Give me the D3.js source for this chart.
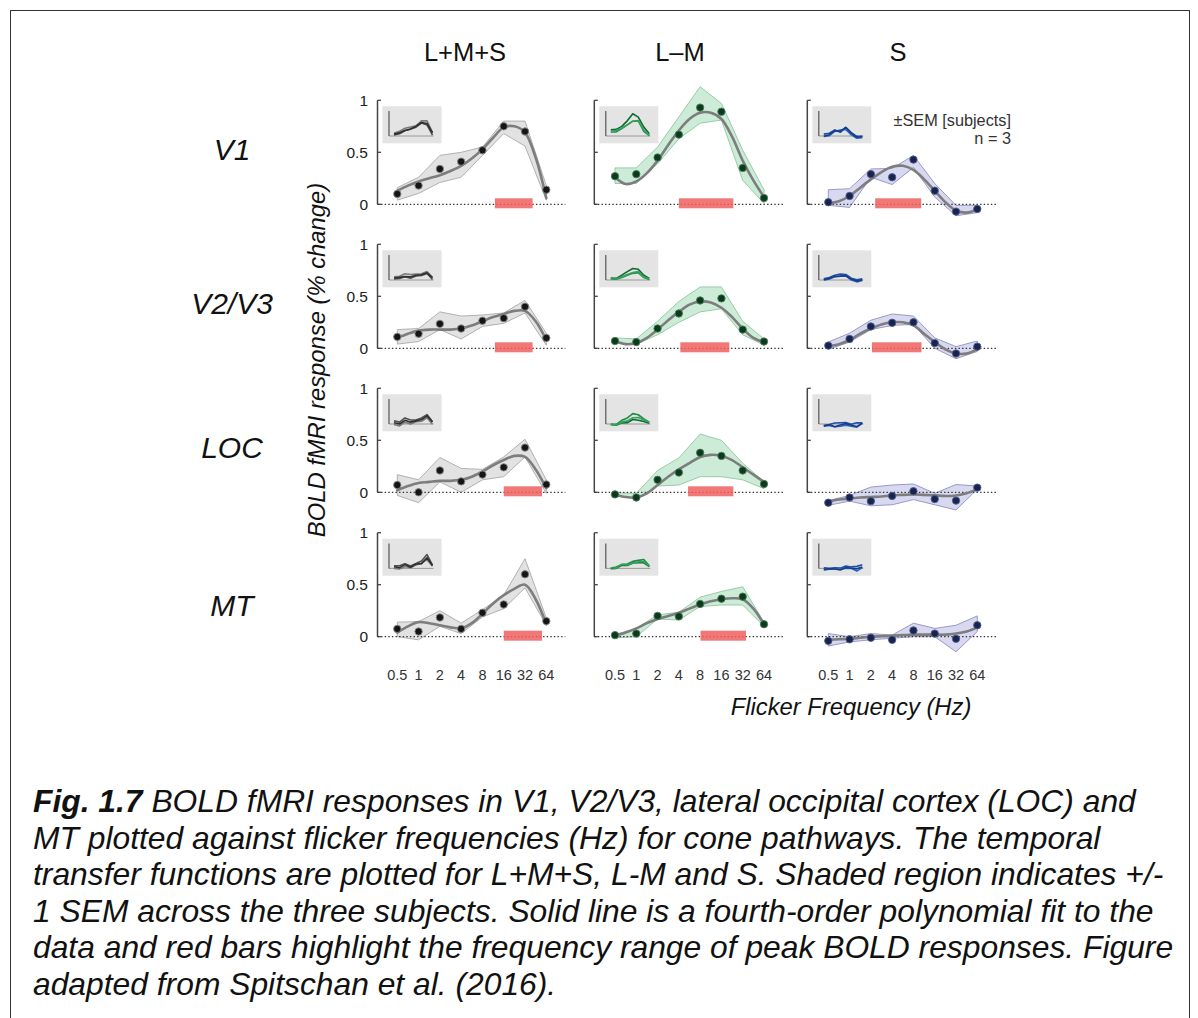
<!DOCTYPE html>
<html><head><meta charset="utf-8">
<script src="https://cdn.jsdelivr.net/npm/d3@7"></script>
<style>body{margin:0;background:#fff}svg{display:block}</style>
</head><body>
<svg id="chart" width="1198" height="1018"></svg>
<script>
// ---------------- DATA ----------------
const frequencies = [0.5, 1, 2, 4, 8, 16, 32, 64];
const fitFrequencies = [0.5, 0.707, 1, 1.414, 2, 2.828, 4, 5.657, 8, 11.31, 16, 22.63, 32, 45.25, 64];
const xTickLabels = ["0.5", "1", "2", "4", "8", "16", "32", "64"];
const yTickValues = [0, 0.5, 1];
const yTickLabels = ["0", "0.5", "1"];
const pathways = ["L+M+S", "L\u2013M", "S"];
const regions = ["V1", "V2/V3", "LOC", "MT"];

// each array: [L+M+S, L-M, S]
const meanV1  = [[0.10,0.18,0.34,0.41,0.52,0.75,0.70,0.14],[0.27,0.29,0.45,0.67,0.93,0.89,0.35,0.06],[0.02,0.08,0.29,0.26,0.43,0.13,-0.07,-0.045]];
const upperV1 = [[0.16,0.26,0.47,0.50,0.55,0.80,0.80,0.18],[0.35,0.35,0.55,0.84,1.13,0.97,0.52,0.14],[0.14,0.15,0.34,0.345,0.47,0.20,-0.01,-0.01]];
const lowerV1 = [[0.04,0.105,0.21,0.26,0.47,0.68,0.56,0.04],[0.20,0.20,0.39,0.63,0.78,0.81,0.23,0.01],[-0.01,-0.03,0.26,0.19,0.355,0.07,-0.11,-0.08]];
const fitV1   = [[0.13,0.18,0.22,0.25,0.28,0.32,0.37,0.44,0.53,0.64,0.74,0.75,0.69,0.45,0.06],
                 [0.26,0.195,0.22,0.30,0.42,0.57,0.71,0.82,0.88,0.88,0.82,0.65,0.42,0.23,0.07],
                 [0.01,0.03,0.08,0.16,0.24,0.31,0.36,0.37,0.33,0.24,0.13,0.02,-0.06,-0.08,-0.05]];
const peakV1  = [[12, 41], [4, 23.6], [2.3, 10.3]];

const meanV23  = [[0.11,0.14,0.235,0.19,0.265,0.29,0.40,0.10],[0.07,0.06,0.19,0.335,0.46,0.48,0.18,0.065],[0.026,0.09,0.21,0.245,0.25,0.05,-0.05,0.016]];
const upperV23 = [[0.18,0.19,0.35,0.31,0.32,0.34,0.46,0.145],[0.10,0.09,0.26,0.45,0.59,0.59,0.26,0.09],[0.06,0.145,0.27,0.33,0.31,0.10,0.016,0.07]];
const lowerV23 = [[0.04,0.065,0.18,0.09,0.21,0.24,0.34,0.03],[0.05,0.04,0.13,0.25,0.35,0.38,0.13,0.03],[-0.01,0.06,0.18,0.22,0.23,0.0,-0.10,-0.03]];
const fitV23   = [[0.10,0.14,0.17,0.18,0.18,0.18,0.19,0.22,0.26,0.30,0.33,0.36,0.36,0.26,0.08],
                  [0.07,0.04,0.05,0.10,0.18,0.27,0.35,0.42,0.45,0.44,0.39,0.30,0.19,0.10,0.06],
                  [0.02,0.04,0.08,0.14,0.19,0.23,0.25,0.25,0.22,0.14,0.06,-0.01,-0.05,-0.05,-0.01]];
const peakV23  = [[12, 41], [4.2, 20.7], [2.07, 10.4]];

const meanLOC  = [[0.07,0.00,0.21,0.105,0.17,0.24,0.43,0.075],[-0.02,-0.05,0.12,0.19,0.38,0.35,0.21,0.08],[-0.10,-0.05,-0.085,-0.035,0.01,-0.065,-0.08,0.045]];
const upperLOC = [[0.17,0.12,0.335,0.23,0.22,0.34,0.51,0.12],[-0.005,-0.01,0.21,0.33,0.56,0.50,0.28,0.10],[-0.08,-0.03,0.05,0.07,0.08,-0.01,0.075,0.06]];
const lowerLOC = [[-0.03,-0.10,0.10,0.0,0.12,0.15,0.34,-0.01],[-0.03,-0.06,0.06,0.07,0.15,0.15,0.12,0.035],[-0.125,-0.085,-0.13,-0.12,-0.07,-0.12,-0.17,0.03]];
const fitLOC   = [[0.02,0.06,0.09,0.10,0.11,0.11,0.12,0.15,0.20,0.26,0.31,0.35,0.34,0.22,0.04],
                  [-0.02,-0.045,-0.05,-0.01,0.07,0.15,0.22,0.28,0.34,0.36,0.35,0.31,0.24,0.17,0.10],
                  [-0.09,-0.07,-0.06,-0.05,-0.045,-0.04,-0.03,-0.025,-0.02,-0.025,-0.03,-0.035,-0.03,-0.01,0.03]];
const peakLOC  = [[16, 55.7], [5.4, 23.6], null];

const meanMT  = [[0.075,0.05,0.185,0.075,0.23,0.31,0.60,0.15],[0.015,0.03,0.20,0.195,0.315,0.365,0.385,0.12],[-0.04,-0.025,-0.01,-0.03,0.06,0.03,-0.02,0.11]];
const upperMT = [[0.14,0.145,0.25,0.13,0.26,0.40,0.75,0.18],[0.02,0.08,0.21,0.235,0.38,0.435,0.48,0.14],[0.03,0.0,0.03,0.015,0.13,0.08,0.11,0.20]];
const lowerMT = [[0.0,-0.03,0.10,0.03,0.19,0.27,0.47,0.11],[-0.01,0.0,0.17,0.16,0.29,0.305,0.305,0.10],[-0.09,-0.05,-0.03,-0.015,0.0,0.0,-0.145,0.05]];
const fitMT   = [[0.04,0.10,0.14,0.13,0.11,0.09,0.08,0.13,0.22,0.32,0.40,0.46,0.50,0.36,0.12],
                 [0.01,0.04,0.08,0.13,0.17,0.20,0.23,0.27,0.31,0.34,0.36,0.37,0.36,0.27,0.12],
                 [-0.03,-0.025,-0.02,-0.01,0.0,0.005,0.01,0.015,0.02,0.02,0.02,0.02,0.03,0.05,0.09]];
const peakMT  = [[16, 55.7], [8.1, 35.6], null];

// individual subjects (inset), [pathway][subject][freq]
const subjV1 = [
  [[0.05,0.12,0.30,0.38,0.48,0.70,0.60,0.05],[0.15,0.25,0.42,0.48,0.55,0.82,0.82,0.20],[0.10,0.17,0.30,0.37,0.53,0.73,0.68,0.17]],
  [[0.22,0.22,0.40,0.60,0.80,0.82,0.25,0.02],[0.33,0.36,0.52,0.82,1.20,1.02,0.48,0.12],[0.26,0.29,0.43,0.60,0.80,0.83,0.32,0.04]],
  [[0.10,0.15,0.33,0.20,0.47,0.18,-0.02,-0.02],[-0.03,0.02,0.25,0.32,0.36,0.06,-0.12,-0.09],[-0.01,0.07,0.29,0.26,0.46,0.15,-0.07,-0.03]]];
const subjV23 = [
  [[0.05,0.08,0.18,0.10,0.22,0.25,0.35,0.03],[0.17,0.20,0.34,0.30,0.32,0.34,0.46,0.15],[0.11,0.14,0.19,0.17,0.26,0.28,0.39,0.12]],
  [[0.05,0.04,0.14,0.26,0.36,0.40,0.13,0.03],[0.10,0.09,0.26,0.45,0.62,0.58,0.26,0.09],[0.06,0.05,0.17,0.30,0.40,0.46,0.15,0.07]],
  [[0.06,0.14,0.26,0.32,0.30,0.10,0.01,0.07],[-0.01,0.05,0.17,0.21,0.22,0.00,-0.10,-0.03],[0.03,0.08,0.20,0.21,0.23,0.05,-0.06,0.01]]];
const subjLOC = [
  [[0.17,0.10,0.33,0.22,0.22,0.33,0.51,0.12],[-0.03,-0.10,0.10,0.00,0.12,0.15,0.34,-0.01],[0.07,0.00,0.20,0.10,0.17,0.24,0.44,0.11]],
  [[-0.01,-0.02,0.20,0.33,0.56,0.50,0.28,0.10],[-0.03,-0.07,0.06,0.07,0.24,0.20,0.13,0.04],[-0.02,-0.06,0.10,0.17,0.34,0.35,0.22,0.10]],
  [[-0.08,-0.03,0.05,0.07,0.08,-0.01,0.07,0.06],[-0.12,-0.08,-0.15,-0.12,-0.07,-0.12,-0.17,0.03],[-0.10,-0.04,-0.15,-0.05,0.02,-0.07,-0.14,0.045]]];
const subjMT = [
  [[0.14,0.14,0.25,0.13,0.26,0.40,0.75,0.18],[0.00,-0.03,0.10,0.03,0.19,0.27,0.47,0.11],[0.085,0.04,0.205,0.065,0.24,0.26,0.58,0.16]],
  [[0.02,0.08,0.21,0.235,0.38,0.435,0.48,0.14],[-0.01,0.00,0.17,0.16,0.29,0.305,0.305,0.10],[0.035,0.01,0.22,0.19,0.275,0.355,0.37,0.12]],
  [[0.03,0.00,0.03,0.015,0.13,0.08,0.11,0.20],[-0.09,-0.05,-0.03,-0.015,0.00,0.00,-0.145,0.05],[-0.06,-0.025,-0.03,-0.09,0.05,0.01,-0.025,0.08]]];

const captionLines = [
  ["Fig. 1.7", " BOLD fMRI responses in V1, V2/V3, lateral occipital cortex (LOC) and"],
  ["", "MT plotted against flicker frequencies (Hz) for cone pathways. The temporal"],
  ["", "transfer functions are plotted for L+M+S, L-M and S. Shaded region indicates +/-"],
  ["", "1 SEM across the three subjects. Solid line is a fourth-order polynomial fit to the"],
  ["", "data and red bars highlight the frequency range of peak BOLD responses. Figure"],
  ["", "adapted from Spitschan et al. (2016)."]
];

// ---------------- LAYOUT / STYLE ----------------
const FONT = "'Liberation Sans', Arial, Helvetica, sans-serif";
const rowData = [
  {mean: meanV1, upper: upperV1, lower: lowerV1, fit: fitV1, peak: peakV1, subj: subjV1},
  {mean: meanV23, upper: upperV23, lower: lowerV23, fit: fitV23, peak: peakV23, subj: subjV23},
  {mean: meanLOC, upper: upperLOC, lower: lowerLOC, fit: fitLOC, peak: peakLOC, subj: subjLOC},
  {mean: meanMT, upper: upperMT, lower: lowerMT, fit: fitMT, peak: peakMT, subj: subjMT}
];
const rowZero = [204.3, 348.3, 492.3, 636.7];
const unitPx = 104;
const colAxisX = [377.5, 594.3, 807.3];
const colX05 = [397.3, 615.0, 828.3];
const octaveSpan = 149;
const colStyle = [
  {band: "#e2e2e2", bandStroke: "#a9a9a9", dot: "#151515", dotStroke: "#8a8a8a", subj: ["#505050", "#7a7a7a", "#2f2f2f"]},
  {band: "#cdecd8", bandStroke: "#8cc7a0", dot: "#0b3b1c", dotStroke: "#4d7d5d", subj: ["#1f8c47", "#0e6a31", "#36a35c"]},
  {band: "#d8d8f0", bandStroke: "#9090c4", dot: "#17244f", dotStroke: "#55608a", subj: ["#1f4fa8", "#2b66c4", "#173c88"]}
];

const svg = d3.select("#chart");
svg.append("rect").attr("width", 1198).attr("height", 1018).attr("fill", "#fff");
svg.append("rect").attr("x", 10.5).attr("y", 10.5).attr("width", 1179).attr("height", 1100)
  .attr("fill", "none").attr("stroke", "#333").attr("stroke-width", 1);

// column titles
const titleX = [465, 680, 898];
pathways.forEach((p, c) => {
  svg.append("text").attr("x", titleX[c]).attr("y", 61).attr("text-anchor", "middle")
    .attr("font-family", FONT).attr("font-size", 25.5).attr("fill", "#111").text(p);
});
// row labels
const rowLabelY = [160, 314, 458, 616];
regions.forEach((r, i) => {
  svg.append("text").attr("x", 232).attr("y", rowLabelY[i]).attr("text-anchor", "middle")
    .attr("font-family", FONT).attr("font-size", 30).attr("font-style", "italic").attr("fill", "#111").text(r);
});

rowData.forEach((rd, r) => {
  const y = d3.scaleLinear().domain([0, 1]).range([rowZero[r], rowZero[r] - unitPx]);
  for (let c = 0; c < 3; c++) {
    const st = colStyle[c];
    const x = d3.scaleLog().base(2).domain([0.5, 64]).range([colX05[c], colX05[c] + octaveSpan]);
    const g = svg.append("g");
    const ax = colAxisX[c];

    // inset
    const bx = ax + 5, by = y(1) + 6;
    g.append("rect").attr("x", bx).attr("y", by).attr("width", 59).attr("height", 37).attr("fill", "#e4e4e4");
    const ix = d3.scaleLog().base(2).domain([0.5, 64]).range([bx + 11.5, bx + 50]);
    const iy = d3.scaleLinear().domain([0, 1]).range([by + 29.7, by + 29.7 - 18.5]);
    g.append("line").attr("x1", bx + 6.5).attr("x2", bx + 51).attr("y1", iy(0)).attr("y2", iy(0))
      .attr("stroke", "#9a9a9a").attr("stroke-width", 1);
    g.append("line").attr("x1", bx + 6.5).attr("x2", bx + 6.5).attr("y1", by + 4.7).attr("y2", iy(0))
      .attr("stroke", "#555").attr("stroke-width", 1.2);
    const iline = d3.line().x((d, i) => ix(frequencies[i])).y(d => iy(d));
    rd.subj[c].forEach((s, k) => {
      g.append("path").attr("d", iline(s)).attr("fill", "none")
        .attr("stroke", st.subj[k]).attr("stroke-width", 1.6).attr("stroke-linejoin", "round");
    });

    // y axis
    g.append("line").attr("x1", ax).attr("x2", ax).attr("y1", y(0)).attr("y2", y(1))
      .attr("stroke", "#444").attr("stroke-width", 1.5);
    yTickValues.forEach((v, i) => {
      g.append("line").attr("x1", ax).attr("x2", ax + 3.5).attr("y1", y(v)).attr("y2", y(v))
        .attr("stroke", "#444").attr("stroke-width", 1.3);
      if (c === 0) {
        g.append("text").attr("x", 368).attr("y", y(v)).attr("dy", "0.36em").attr("text-anchor", "end")
          .attr("font-family", FONT).attr("font-size", 15.5).attr("fill", "#222").text(yTickLabels[i]);
      }
    });

    // SEM band
    const band = d3.area().x((d, i) => x(frequencies[i])).y0(d => y(d[0])).y1(d => y(d[1]));
    const bandData = frequencies.map((f, i) => [rd.lower[c][i], rd.upper[c][i]]);
    g.append("path").attr("d", band(bandData)).attr("fill", st.band)
      .attr("stroke", st.bandStroke).attr("stroke-width", 0.9).attr("stroke-linejoin", "round");

    // zero line (dotted)
    g.append("line").attr("x1", ax).attr("x2", colX05[c] + 168).attr("y1", y(0)).attr("y2", y(0))
      .attr("stroke", "#333").attr("stroke-width", 1.2).attr("stroke-dasharray", "1.4 2.2");

    // red peak bar
    if (rd.peak[c]) {
      const [f0, f1] = rd.peak[c];
      g.append("rect").attr("x", x(f0)).attr("width", x(f1) - x(f0))
        .attr("y", y(0) - 6).attr("height", 10).attr("fill", "#f05f5f").attr("opacity", 0.85);
    }

    // polynomial fit
    const fitLine = d3.line().curve(d3.curveCatmullRom).x((d, i) => x(fitFrequencies[i])).y(d => y(d));
    g.append("path").attr("d", fitLine(rd.fit[c])).attr("fill", "none")
      .attr("stroke", "#7d7d7d").attr("stroke-width", 2.6).attr("stroke-linecap", "round");

    // mean points
    g.selectAll("circle.m").data(rd.mean[c]).enter().append("circle")
      .attr("cx", (d, i) => x(frequencies[i])).attr("cy", d => y(d)).attr("r", 3.7)
      .attr("fill", st.dot).attr("stroke", st.dotStroke).attr("stroke-width", 0.9);

    // x tick labels (bottom row)
    if (r === 3) {
      frequencies.forEach((f, i) => {
        g.append("text").attr("x", x(f)).attr("y", 680).attr("text-anchor", "middle")
          .attr("font-family", FONT).attr("font-size", 14.5).attr("fill", "#333").text(xTickLabels[i]);
      });
    }
  }
});

// legend
svg.append("text").attr("x", 1011).attr("y", 126).attr("text-anchor", "end")
  .attr("font-family", FONT).attr("font-size", 16.3).attr("fill", "#333").text("\u00b1SEM [subjects]");
svg.append("text").attr("x", 1011).attr("y", 144).attr("text-anchor", "end")
  .attr("font-family", FONT).attr("font-size", 16.3).attr("fill", "#333").text("n = 3");

// axis labels
svg.append("text").attr("transform", "translate(317,360) rotate(-90)").attr("text-anchor", "middle")
  .attr("dy", "0.35em").attr("font-family", FONT).attr("font-size", 23.8).attr("font-style", "italic")
  .attr("fill", "#111").text("BOLD fMRI response (% change)");
svg.append("text").attr("x", 851).attr("y", 715).attr("text-anchor", "middle")
  .attr("font-family", FONT).attr("font-size", 23.8).attr("font-style", "italic")
  .attr("fill", "#111").text("Flicker Frequency (Hz)");

// caption
captionLines.forEach((ln, i) => {
  const t = svg.append("text").attr("x", 33).attr("y", 812 + i * 36.5)
    .attr("font-family", FONT).attr("font-size", 31.8).attr("font-style", "italic").attr("fill", "#111");
  if (ln[0]) t.append("tspan").attr("font-weight", "bold").text(ln[0]);
  t.append("tspan").text(ln[1]);
});
</script>
</body></html>
